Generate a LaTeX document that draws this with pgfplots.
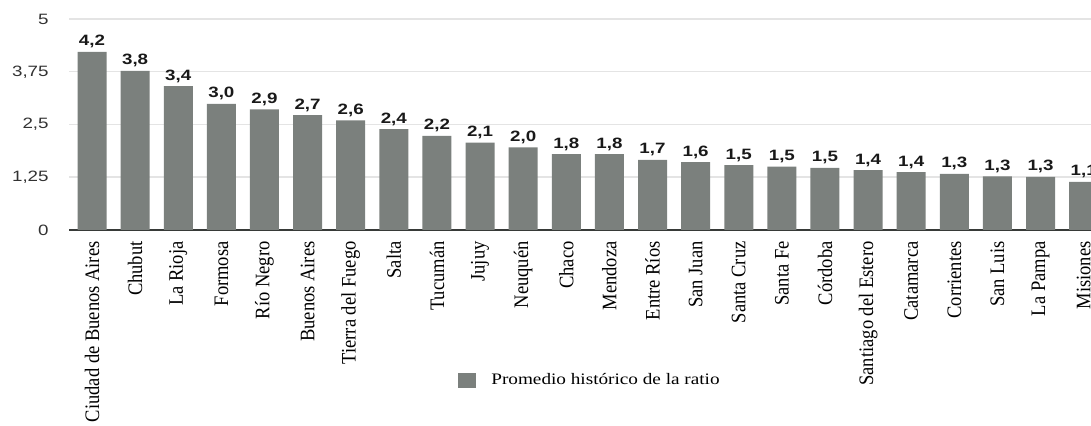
\documentclass[border=0pt]{standalone}
\usepackage{fontspec}
\usepackage{pgfplots}
\pgfplotsset{compat=1.18}
\setmainfont{Liberation Serif}
\newfontfamily\catfont{Liberation Serif}[FakeStretch=0.9]
\newfontfamily\legfont{Liberation Serif}[FakeStretch=1.2]
\newfontfamily\tickfont{Liberation Sans}[FakeStretch=1.25]
\definecolor{barcol}{RGB}{123,128,125}
\definecolor{gridcol}{RGB}{228,228,228}
\definecolor{axcol}{RGB}{55,58,56}
\definecolor{tickcol}{RGB}{50,50,50}

\pgfplotstableread{
x y
0 4.22
1 3.77
2 3.41
3 2.99
4 2.86
5 2.72
6 2.60
7 2.39
8 2.23
9 2.07
10 1.96
11 1.80
12 1.80
13 1.66
14 1.61
15 1.54
16 1.50
17 1.47
18 1.42
19 1.37
20 1.33
21 1.27
22 1.26
23 1.14
}\datatable

\begin{document}
\begin{tikzpicture}
\begin{axis}[
  at={(34.5pt,98pt)}, anchor=south west,
  scale only axis, width=511pt, height=105.5pt,
  xmin=-0.534, xmax=23.17, ymin=0, ymax=5,
  clip=false,
  axis x line*=bottom, axis y line*=left,
  y axis line style={draw=none},
  x axis line style={draw=axcol, line width=1pt},
  major tick length=0pt,
  ytick={0,1.25,2.5,3.75,5},
  yticklabels={0,{1,25},{2,5},{3,75},5},
  ymajorgrids, grid style={draw=gridcol, line width=0.75pt},
  yticklabel style={font=\tickfont\fontsize{7.5}{9}\selectfont, text=tickcol, anchor=east, inner sep=0pt},
  yticklabel shift=10pt,
  xtick={0,...,23},
  xticklabels={Ciudad de Buenos Aires,Chubut,La Rioja,Formosa,Río Negro,Buenos Aires,Tierra del Fuego,Salta,Tucumán,Jujuy,Neuquén,Chaco,Mendoza,Entre Ríos,San Juan,Santa Cruz,Santa Fe,Córdoba,Santiago del Estero,Catamarca,Corrientes,San Luis,La Pampa,Misiones},
  xticklabel style={font=\catfont\fontsize{10.3}{12}\selectfont, text=black, rotate=90, anchor=east, inner sep=0pt},
  xticklabel shift=5.5pt,
  ybar, bar width=14.5pt,
  legend style={at={(0.3806,-0.713)}, anchor=west, draw=none, fill=none, inner sep=0pt,
    font=\legfont\fontsize{8}{10}\selectfont,
    /tikz/every odd column/.append style={column sep=5.5pt}},
  legend image code/.code={\fill[barcol] (0pt,-3.75pt) rectangle (9pt,3.75pt);},
  nodes near coords={\pgfmathprintnumber[fixed,fixed zerofill,precision=1,use comma,assume math mode=true]{\pgfplotspointmeta}},
  every node near coord/.append style={font=\tickfont\bfseries\fontsize{7.5}{9}\selectfont, text=black!90, anchor=base, inner sep=0pt, yshift=3pt},
]
\addplot[fill=barcol, draw=none] table[x=x,y=y] {\datatable};
\addlegendentry{Promedio histórico de la ratio}
\end{axis}
\pgfresetboundingbox
\useasboundingbox (0,0) rectangle (545.5pt,213pt);
\end{tikzpicture}
\end{document}
